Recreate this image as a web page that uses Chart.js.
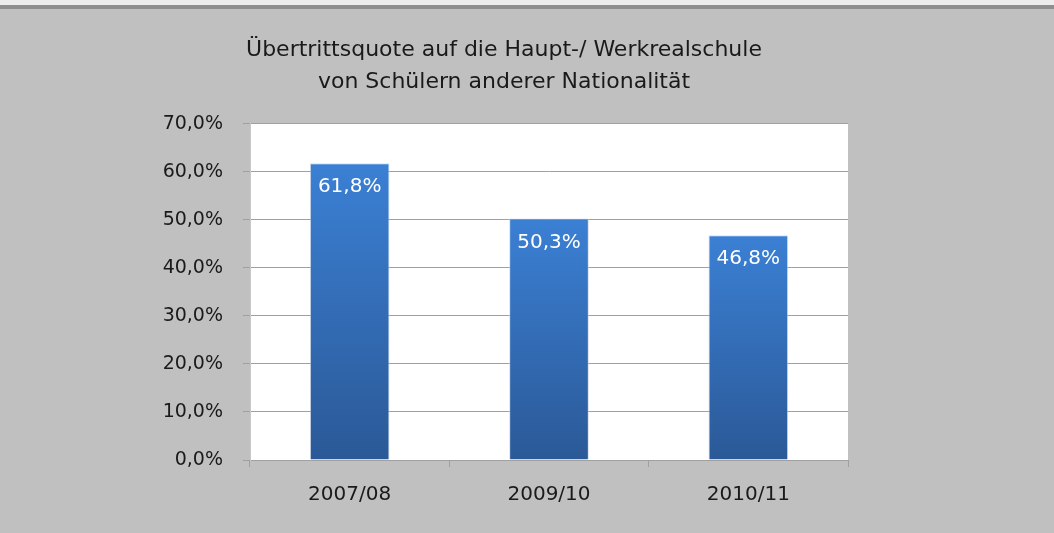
<!DOCTYPE html>
<html>
<head>
<meta charset="utf-8">
<script src="https://cdn.jsdelivr.net/npm/chart.js@4/dist/chart.umd.min.js"></script>
<style>
	html, body { margin: 0; padding: 0; background: #c0c0c0; }
	#wrap { position: relative; width: 1054px; height: 533px; }
	#topband { position: absolute; left: 0; top: 0; width: 1054px; height: 5px; background: #ececec; }
	#topline { position: absolute; left: 0; top: 5px; width: 1054px; height: 4px; background: #8e8e8e; }
	canvas { position: absolute; left: 0; top: 0; }
</style>
</head>
<body>
<div id="wrap">
	<canvas id="quote" width="1054" height="533"></canvas>
	<div id="topband"></div>
	<div id="topline"></div>
</div>
<script>
(function(){
	'use strict';

	// data
	var years = ['2007/08', '2009/10', '2010/11'];
	var quoteValues = [61.8, 50.3, 46.8];
	var yTicks = [0, 10, 20, 30, 40, 50, 60, 70];
	var titleLines = ['Übertrittsquote auf die Haupt-/ Werkrealschule', 'von Schülern anderer Nationalität'];

	var fontFamily = '"DejaVu Sans", "Liberation Sans", Arial, sans-serif';

	function pct(v){
		return v.toFixed(1).replace('.', ',') + '%';
	}

	// white plot area
	var plotBg = {
		id: 'plotBg',
		beforeDraw: function(chart){
			var a = chart.chartArea;
			var c = chart.ctx;
			c.save();
			c.fillStyle = '#ffffff';
			c.fillRect(a.left, a.top, a.right - a.left, a.bottom - a.top);
			c.restore();
		}
	};

	// value labels inside the bars
	var barLabels = {
		id: 'barLabels',
		afterDatasetsDraw: function(chart){
			var c = chart.ctx;
			var meta = chart.getDatasetMeta(0);
			c.save();
			c.fillStyle = '#ffffff';
			c.font = '20px ' + fontFamily;
			c.textAlign = 'center';
			c.textBaseline = 'middle';
			meta.data.forEach(function(bar, i){
				c.fillText(pct(quoteValues[i]), bar.x, bar.y + 24);
			});
			c.restore();
		}
	};

	function barFill(context){
		var chart = context.chart;
		var y = chart.scales.y;
		if (!y || context.raw === undefined) return '#3570bb';
		var top = y.getPixelForValue(context.raw);
		var bottom = y.getPixelForValue(0);
		if (!isFinite(top) || !isFinite(bottom)) return '#3570bb';
		var g = chart.ctx.createLinearGradient(0, top, 0, bottom);
		g.addColorStop(0, '#3b80d4');
		g.addColorStop(1, '#2b5997');
		return g;
	}

	new Chart(document.getElementById('quote'), {
		type: 'bar',
		data: {
			labels: years,
			datasets: [{
				label: 'Übertrittsquote',
				data: quoteValues,
				backgroundColor: barFill,
				borderColor: 'rgba(200,210,225,0.7)',
				borderWidth: 1,
				categoryPercentage: 1,
				barPercentage: 0.4
			}]
		},
		options: {
			responsive: false,
			animation: false,
			layout: { padding: { left: 0, right: 46, top: 0, bottom: 0 } },
			plugins: {
				legend: { display: false },
				tooltip: { enabled: false },
				title: {
					display: true,
					text: titleLines,
					color: '#1a1a1a',
					font: { family: fontFamily, size: 22, weight: 'normal', lineHeight: 1.45 },
					padding: { top: 34, bottom: 26 }
				}
			},
			scales: {
				x: {
					grid: { drawOnChartArea: false, drawTicks: true, tickLength: 7, color: '#a0a0a0', offset: true },
					border: { color: '#a0a0a0' },
					ticks: { color: '#1a1a1a', font: { family: fontFamily, size: 20 }, padding: 16 },
					afterFit: function(s){ s.height = 73; }
				},
				y: {
					min: 0,
					max: 70,
					afterBuildTicks: function(s){
						s.ticks = yTicks.map(function(v){ return { value: v }; });
					},
					grid: { color: '#a0a0a0', tickLength: 7, lineWidth: 1 },
					border: { color: '#c8c8c8' },
					ticks: {
						color: '#1a1a1a',
						font: { family: fontFamily, size: 19 },
						padding: 20,
						callback: function(v){ return pct(v); }
					},
					afterFit: function(s){ s.width = 250; }
				},
				y2: {
					position: 'right',
					display: true,
					grid: { display: false },
					border: { display: false },
					ticks: { display: false },
					afterFit: function(s){ s.width = 160; }
				}
			}
		},
		plugins: [plotBg, barLabels]
	});
})();
</script>
</body>
</html>
